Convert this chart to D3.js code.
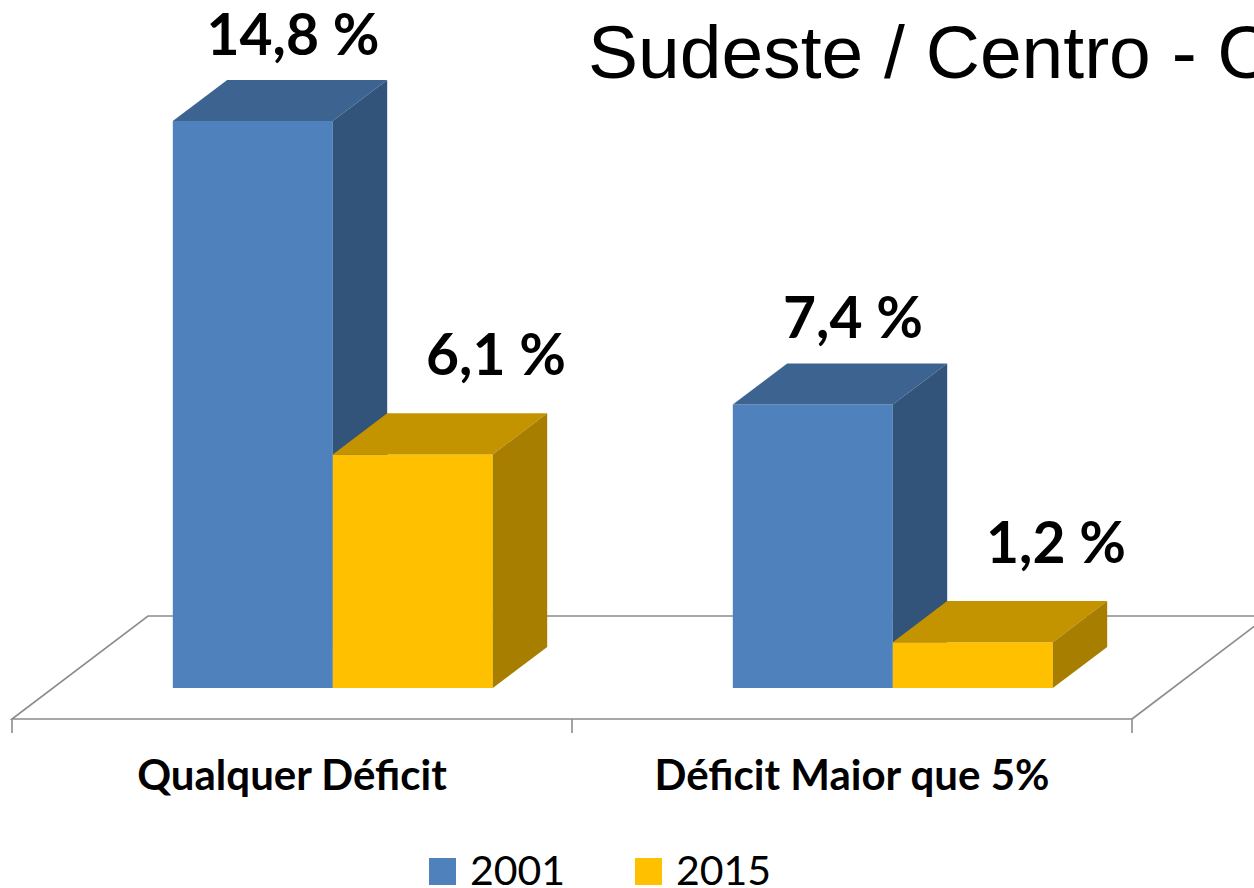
<!DOCTYPE html>
<html>
<head>
<meta charset="utf-8">
<script src="https://cdn.jsdelivr.net/npm/d3@7"></script>
<style>
  html, body { margin: 0; padding: 0; background: #ffffff; }
  svg { display: block; }
</style>
</head>
<body>
<svg id="chart" width="1254" height="888"></svg>
<script>
// ---- data ----
const categories = ["Qualquer Déficit", "Déficit Maior que 5%"];
const seriesNames = ["2001", "2015"];
const values2001 = [14.8, 7.4];
const values2015 = [6.1, 1.2];
const valueLabels2001 = ["14,8 %", "7,4 %"];
const valueLabels2015 = ["6,1 %", "1,2 %"];
const titleText = "Sudeste / Centro - Oeste";

// ---- styles ----
const frontColors = ["#4F81BD", "#FFC000"];
const topColors   = ["#3D6491", "#C49300"];
const sideColors  = ["#32537A", "#A77E00"];
const labelDx = [13, 56];
const labelDy = [25, 38];

const svg = d3.select("#chart");

// projection: depth z in [0,1]
const depthX = 136, depthY = 103;
const floorY = 719;
const x = d3.scaleBand().domain(categories).range([12, 1132]).paddingInner(0).paddingOuter(0);
const xs = d3.scaleBand().domain(seriesNames).range([0, x.bandwidth()]).paddingInner(0).paddingOuter(0.75);
const y = d3.scaleLinear().domain([0, 16]).range([floorY, floorY - 613]);
const P = (px, v, z) => [px + z * depthX, y(v) - z * depthY];
const zFront = 0.3, zBack = 0.7;

// title
svg.append("text")
  .attr("x", 588).attr("y", 78)
  .attr("font-family", "'Liberation Sans', Arial, sans-serif")
  .attr("font-size", 75)
  .attr("fill", "#000")
  .text(titleText);

// floor
const fx0 = x.range()[0], fx1 = x.range()[1];
const floor = svg.append("g").attr("fill", "none").attr("stroke", "#8C8C8C").attr("stroke-width", 1.6);
const fl = [P(fx0, 0, 0), P(fx0, 0, 1), P(fx1, 0, 1), P(fx1, 0, 0)];
floor.append("path").attr("d", d3.line()([fl[3], fl[0], fl[1], fl[2], fl[3]]));
// ticks
const tickXs = [fx0].concat(categories.map(c => x(c) + x.bandwidth()));
floor.selectAll("line.tick").data(tickXs).join("line")
  .attr("x1", d => d).attr("x2", d => d)
  .attr("y1", floorY).attr("y2", floorY + 14);

// bars
const allSeries = [values2001, values2015];
const allLabels = [valueLabels2001, valueLabels2015];
const line = d3.line();
const barsG = svg.append("g");
categories.forEach((cat, ci) => {
  seriesNames.forEach((s, si) => {
    const v = allSeries[si][ci];
    const xl = x(cat) + xs(s), xr = xl + xs.bandwidth();
    const g = barsG.append("g");
    const f = [P(xl, 0, zFront), P(xr, 0, zFront), P(xr, v, zFront), P(xl, v, zFront)];
    g.append("path").attr("d", line(f) + "Z").attr("fill", frontColors[si]);
    const t = [P(xl, v, zFront), P(xr, v, zFront), P(xr, v, zBack), P(xl, v, zBack)];
    g.append("path").attr("d", line(t) + "Z").attr("fill", topColors[si]);
    const sd = [P(xr, 0, zFront), P(xr, 0, zBack), P(xr, v, zBack), P(xr, v, zFront)];
    g.append("path").attr("d", line(sd) + "Z").attr("fill", sideColors[si]);
    const c = P((xl + xr) / 2, v, (zFront + zBack) / 2);
    const topBack = P(xl, v, zBack)[1];
    svg.append("text")
      .attr("x", c[0] + labelDx[si])
      .attr("y", topBack - labelDy[si])
      .attr("text-anchor", "middle")
      .attr("font-family", "Lato, 'Open Sans', sans-serif")
      .attr("font-weight", "bold")
      .attr("font-size", 57)
      .attr("fill", "#000")
      .text(allLabels[si][ci]);
  });
});

// category labels
svg.selectAll("text.cat").data(categories).join("text")
  .attr("class", "cat")
  .attr("x", d => x(d) + x.bandwidth() / 2)
  .attr("y", 790)
  .attr("text-anchor", "middle")
  .attr("font-family", "Lato, 'Open Sans', sans-serif")
  .attr("font-weight", "bold")
  .attr("font-size", 42)
  .attr("fill", "#000")
  .text(d => d);

// legend
const legendX = [429, 635];
const lg = svg.append("g");
seriesNames.forEach((s, i) => {
  lg.append("rect").attr("x", legendX[i]).attr("y", 858).attr("width", 27).attr("height", 27)
    .attr("fill", frontColors[i]);
  lg.append("text").attr("x", legendX[i] + 41).attr("y", 885)
    .attr("font-family", "Lato, 'Open Sans', sans-serif")
    .attr("font-size", 41)
    .attr("fill", "#000")
    .text(s);
});
</script>
</body>
</html>
